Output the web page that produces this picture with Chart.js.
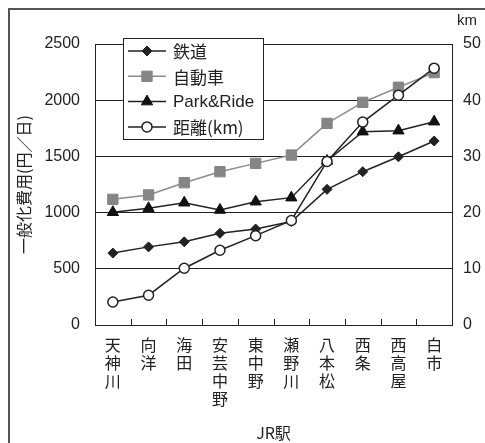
<!DOCTYPE html>
<html>
<head>
<meta charset="utf-8">
<script src="https://cdn.jsdelivr.net/npm/chart.js@4"></script>
<style>
  body { margin: 0; background: #fff; }
  #wrap { position: relative; width: 485px; height: 443px; overflow: hidden; }
  #frame { position: absolute; left: 8px; top: 8px; width: 600px; height: 600px;
           border-top: 2px solid #555; border-left: 2px solid #555; }
  canvas { position: absolute; left: 0; top: 0; }
</style>
</head>
<body>
<div id="wrap">
  <div id="frame"></div>
  <canvas id="myChart" width="485" height="443"></canvas>
</div>
<script>
// stations along the JR line
const stations = ['天神川', '向洋', '海田', '安芸中野', '東中野', '瀬野川', '八本松', '西条', '西高屋', '白市'];
// generalised cost (yen/day)
const rail = [640, 695, 740, 816, 854, 920, 1207, 1364, 1497, 1637];
const car = [1118, 1157, 1266, 1364, 1438, 1512, 1794, 1981, 2115, 2245];
const parkRide = [1003, 1038, 1088, 1023, 1097, 1133, 1459, 1720, 1729, 1809];
// distance (km), right axis
const distKm = [4.1, 5.3, 10.1, 13.3, 15.9, 18.6, 29.1, 36.1, 40.9, 45.7];

const costTicks = [0, 500, 1000, 1500, 2000, 2500];
const kmTicks = [0, 10, 20, 30, 40, 50];

const jpFont = '"Noto Sans CJK JP", "Noto Sans", sans-serif';
const numFont = '"Liberation Sans", Arial, sans-serif';

// legend drawn inside the plot area
const boxLegend = {
    id: 'boxLegend',
    afterDraw(chart) {
        const ctx = chart.ctx;
        const x0 = 123, y0 = 38, w = 140, h = 101;
        ctx.save();
        ctx.fillStyle = '#fff';
        ctx.fillRect(x0, y0, w, h);
        ctx.strokeStyle = '#222';
        ctx.lineWidth = 1;
        ctx.strokeRect(x0 + 0.5, y0 + 0.5, w, h);
        chart.data.datasets.forEach((ds, i) => {
            let y = y0 + 13 + i * 25.3;
            ctx.strokeStyle = ds.borderColor;
            ctx.lineWidth = 1.5;
            ctx.beginPath();
            ctx.moveTo(x0 + 5, y);
            ctx.lineTo(x0 + 43, y);
            ctx.stroke();
            ctx.fillStyle = ds.pointBackgroundColor;
            ctx.strokeStyle = ds.pointBorderColor;
            ctx.lineWidth = ds.pointBorderWidth || 1;
            drawMarker(ctx, ds.pointStyle, ds.pointRadius, x0 + 24, y);
            ctx.fillStyle = '#222';
            ctx.font = (ds.label.match(/[a-zA-Z]{3}/) ? '17px ' + numFont : '17px ' + jpFont);
            ctx.textBaseline = 'middle';
            ctx.fillText(ds.label, x0 + 50, y + 1);
        });
        // km unit over right axis
        ctx.fillStyle = '#222';
        ctx.font = '15px ' + numFont;
        ctx.textBaseline = 'middle';
        ctx.fillText('km', chart.chartArea.right + 5, 21);
        // tick marks pointing up from the category axis
        const xs = chart.scales.x;
        ctx.strokeStyle = '#222';
        ctx.lineWidth = 1;
        for (let i = 1; i < stations.length; i++) {
            let px = Math.round((xs.getPixelForValue(i - 1) + xs.getPixelForValue(i)) / 2) + 0.5;
            ctx.beginPath();
            ctx.moveTo(px, chart.chartArea.bottom);
            ctx.lineTo(px, chart.chartArea.bottom - 6);
            ctx.stroke();
        }
        ctx.restore();
    }
};

function drawMarker(ctx, style, r, x, y) {
    ctx.beginPath();
    if (style === 'rectRot') {
        ctx.moveTo(x, y - r); ctx.lineTo(x + r, y); ctx.lineTo(x, y + r); ctx.lineTo(x - r, y);
    } else if (style === 'rect') {
        ctx.rect(x - r * 0.707, y - r * 0.707, r * 1.414, r * 1.414);
    } else if (style === 'triangle') {
        ctx.moveTo(x, y - r); ctx.lineTo(x + r * 0.87, y + r * 0.5); ctx.lineTo(x - r * 0.87, y + r * 0.5);
    } else {
        ctx.arc(x, y, r, 0, Math.PI * 2);
    }
    ctx.closePath();
    ctx.fill();
    ctx.stroke();
}

function graph() {
    const ctx = document.getElementById('myChart');
    new Chart(ctx, {
        type: 'line',
        data: {
            labels: stations.map(s => s.split('')),
            datasets: [
                { label: '鉄道', data: rail, yAxisID: 'y', order: 3,
                  borderColor: '#222', borderWidth: 1.5,
                  pointStyle: 'rectRot', pointRadius: 5,
                  pointBackgroundColor: '#222', pointBorderColor: '#222', pointBorderWidth: 1 },
                { label: '自動車', data: car, yAxisID: 'y', order: 2,
                  borderColor: '#8c8c8c', borderWidth: 1.5,
                  pointStyle: 'rect', pointRadius: 7.3,
                  pointBackgroundColor: '#858585', pointBorderColor: '#858585', pointBorderWidth: 1 },
                { label: 'Park&Ride', data: parkRide, yAxisID: 'y', order: 1,
                  borderColor: '#222', borderWidth: 1.5,
                  pointStyle: 'triangle', pointRadius: 6.5,
                  pointBackgroundColor: '#111', pointBorderColor: '#111', pointBorderWidth: 1 },
                { label: '距離(km)', data: distKm, yAxisID: 'y2', order: 0,
                  borderColor: '#222', borderWidth: 1.5,
                  pointStyle: 'circle', pointRadius: 5,
                  pointBackgroundColor: '#fff', pointBorderColor: '#222', pointBorderWidth: 1.5 }
            ]
        },
        options: {
            responsive: false,
            animation: { duration: 0 },
            layout: { padding: { top: 44, left: 0, right: 0, bottom: 0 } },
            elements: { line: { tension: 0 } },
            plugins: { legend: { display: false }, tooltip: { enabled: false } },
            scales: {
                x: {
                    offset: true,
                    grid: { display: false, offset: true, drawTicks: false },
                    border: { display: true, color: '#222', width: 1 },
                    ticks: {
                        autoSkip: false, maxRotation: 0, minRotation: 0, padding: 11,
                        color: '#222', font: { family: jpFont, size: 16, lineHeight: 1.12 }
                    },
                    title: {
                        display: true, text: 'JR駅', color: '#222', padding: { top: 0, bottom: 0 },
                        font: { family: jpFont, size: 16 }
                    },
                    afterFit: (s) => { s.height = 118; }
                },
                y: {
                    position: 'left', min: 0, max: 2500,
                    afterBuildTicks: (s) => { s.ticks = costTicks.map(v => ({ value: v })); },
                    grid: { color: '#222', lineWidth: 1, drawTicks: false },
                    border: { display: true, color: '#222', width: 1 },
                    ticks: { padding: 15, color: '#222', font: { family: numFont, size: 16 },
                             callback: (v) => String(v) },
                    title: {
                        display: true, text: '一般化費用(円／日)', color: '#222', padding: { top: 14, bottom: 0 },
                        font: { family: jpFont, size: 16 }
                    },
                    afterFit: (s) => { s.width = 95; }
                },
                y2: {
                    position: 'right', min: 0, max: 50,
                    afterBuildTicks: (s) => { s.ticks = kmTicks.map(v => ({ value: v })); },
                    grid: { display: false, drawOnChartArea: false, drawTicks: false },
                    border: { display: true, color: '#222', width: 1 },
                    ticks: { padding: 11, color: '#222', font: { family: numFont, size: 16 },
                             callback: (v) => String(v) },
                    afterFit: (s) => { s.width = 33; }
                }
            }
        },
        plugins: [boxLegend]
    });
}

graph();
</script>
</body>
</html>
